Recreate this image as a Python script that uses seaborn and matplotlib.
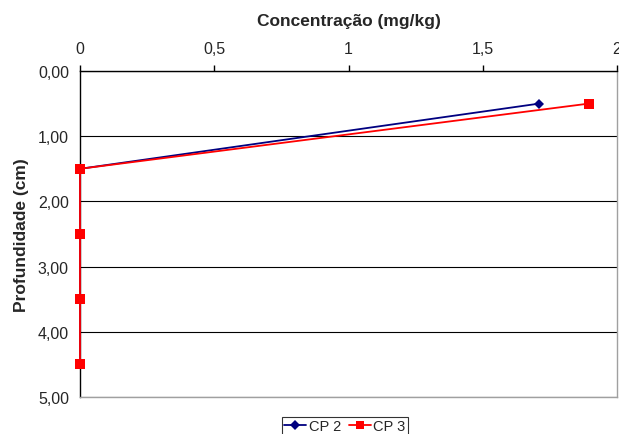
import matplotlib
matplotlib.use("Agg")
import matplotlib.pyplot as plt
import seaborn as sns
import pandas as pd
from matplotlib.ticker import FuncFormatter
from matplotlib.lines import Line2D

depth = [0.5, 1.5, 2.5, 3.5, 4.5]
cp2 = [1.71, 0.0, 0.0, 0.0, 0.0]
cp3 = [1.895, 0.0, 0.0, 0.0, 0.0]
series_names = ["CP 2", "CP 3"]
x_ticks = [0, 0.5, 1, 1.5, 2]
y_ticks = [0, 1, 2, 3, 4, 5]

df = pd.DataFrame({
    "conc": cp2 + cp3,
    "depth": depth + depth,
    "serie": [series_names[0]] * len(depth) + [series_names[1]] * len(depth),
})

sns.set_style("white")
plt.rcParams["font.family"] = ["Liberation Sans", "DejaVu Sans"]

fig = plt.figure(figsize=(6.19, 4.35), dpi=100)
ax = fig.add_axes([80 / 619, 1 - 398 / 435, 537 / 619, 326 / 435])

palette = {"CP 2": "#000080", "CP 3": "#FF0000"}
markers = {"CP 2": "D", "CP 3": "s"}
sns.lineplot(data=df, x="conc", y="depth", hue="serie", style="serie",
             palette=palette, markers=markers, dashes=False, sort=False,
             estimator=None, orient="y", ax=ax, linewidth=1.3,
             markeredgewidth=0, legend=False)
for line, ms in zip(ax.lines, [5, 6.5]):
    line.set_markersize(ms)
    line.set_clip_on(False)
    line.set_zorder(5)

ax.set_xlim(0, 2)
ax.set_ylim(5, 0)
ax.set_xticks(x_ticks)
ax.set_yticks(y_ticks)
ax.xaxis.tick_top()
ax.xaxis.set_label_position("top")
ax.xaxis.set_major_formatter(FuncFormatter(lambda v, p: f"{v:g}".replace(".", ",")))
ax.yaxis.set_major_formatter(FuncFormatter(lambda v, p: f"{v:.2f}".replace(".", ",")))
ax.tick_params(axis="both", labelsize=11.5, length=5, width=1, color="black",
               direction="out", pad=3)
ax.tick_params(axis="x", length=4, pad=7)
ax.set_xlabel("Concentração (mg/kg)", fontsize=12.5, fontweight="bold", labelpad=11)
ax.set_ylabel("Profundidade (cm)", fontsize=12.5, fontweight="bold", labelpad=6)

ax.grid(axis="y", color="black", linewidth=0.8)
ax.grid(axis="x", visible=False)
ax.set_axisbelow(True)
ax.spines["left"].set_color("black")
ax.spines["top"].set_color("black")
ax.spines["right"].set_color("#a0a0a0")
ax.spines["bottom"].set_color("#a0a0a0")
for s in ax.spines.values():
    s.set_linewidth(1)

handles = [Line2D([], [], color=palette[n], marker=markers[n],
                  markersize=5 if n == "CP 2" else 6, markeredgewidth=0, linewidth=1.3)
           for n in series_names]
leg = fig.legend(handles, series_names, loc="upper center",
                 bbox_to_anchor=(345 / 619, 1 - 418 / 435), ncol=2, fontsize=10.5,
                 frameon=True, fancybox=False, edgecolor="black", handlelength=1.5,
                 columnspacing=0.5, handletextpad=0.2, borderpad=0.15,
                 borderaxespad=0)
leg.get_frame().set_linewidth(0.8)

fig.savefig("out.png", dpi=100)
